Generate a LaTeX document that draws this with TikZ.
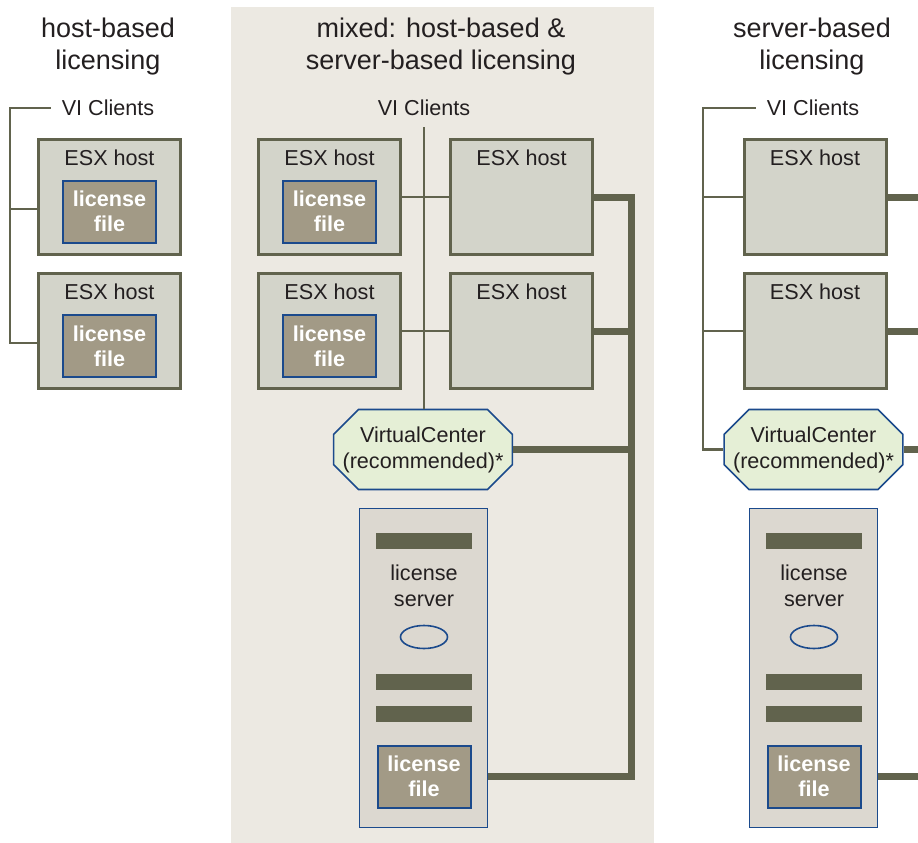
\documentclass[tikz,border=0pt]{standalone}
\usepackage{fontspec}
\setmainfont{Liberation Sans}
\usepackage{tikz}
\usetikzlibrary{shapes.misc, shapes.geometric, positioning}
\definecolor{PanelBeige}{HTML}{ECE9E2}
\definecolor{HostGray}{HTML}{D3D4CA}
\definecolor{LineOlive}{HTML}{61634D}
\definecolor{FileTaupe}{HTML}{A29A86}
\definecolor{EdgeBlue}{HTML}{1B4A8C}
\definecolor{VCGreen}{HTML}{E5EFD6}
\definecolor{ServerGray}{HTML}{DCD8D0}
\definecolor{TextDark}{HTML}{231F20}
\tikzset{
  titletext/.style={font=\fontsize{27}{32}\selectfont, text=TextDark, align=center},
  clienttext/.style={font=\fontsize{21.6}{26}\selectfont, text=TextDark, inner sep=0pt},
  hostbox/.style={rectangle, draw=LineOlive, line width=3pt, fill=HostGray, minimum width=142pt, minimum height=115pt},
  hostlabel/.style={anchor=center, yshift=-20pt, font=\fontsize{21.6}{26}\selectfont, text=TextDark},
  filebox/.style={rectangle, draw=EdgeBlue, line width=2pt, fill=FileTaupe, text=white, font=\bfseries\fontsize{21.6}{25}\selectfont, align=center, minimum width=93pt, minimum height=62pt, inner sep=0pt},
  vcbox/.style={chamfered rectangle, chamfered rectangle xsep=9pt, chamfered rectangle ysep=16pt, draw=EdgeBlue, line width=1.6pt, fill=VCGreen, text=TextDark, font=\fontsize{21.6}{26}\selectfont, align=center, minimum height=80pt, inner sep=0pt},
  serverbox/.style={rectangle, draw=EdgeBlue, line width=1.6pt, fill=ServerGray, minimum width=128pt, minimum height=319pt},
  servertext/.style={font=\fontsize{21.6}{26}\selectfont, text=TextDark, align=center},
  slotbar/.style={rectangle, fill=LineOlive, minimum width=96pt, minimum height=16pt, inner sep=0pt},
  diskslot/.style={ellipse, draw=EdgeBlue, line width=1.6pt, minimum width=47pt, minimum height=23pt},
  thinline/.style={draw=LineOlive, line width=2.5pt},
  thickline/.style={draw=LineOlive, line width=7pt, line join=miter}
}
\begin{document}
\begin{tikzpicture}[x=1pt, y=-1pt]
  \useasboundingbox (0,0) rectangle (918,843);
  \fill[PanelBeige] (231,7) rectangle (654,843);

  % titles
  \node[titletext] (titleL) at (108,47) {host-based\\licensing};
  \node[titletext] (titleM) at (441,47) {mixed: host-based \&\\server-based licensing};
  \node[titletext] (titleR) at (812,47) {server-based\\licensing};

  % host-based licensing
  \node[clienttext] (viL) at (108,108) {VI Clients};
  \node[hostbox, label={[hostlabel]north:ESX host}] (hostL1) at (109.5,197) {};
  \node[hostbox, label={[hostlabel]north:ESX host}] (hostL2) at (109.5,331) {};
  \node[filebox] (fileL1) at (109.5,211.5) {license\\file};
  \node[filebox] (fileL2) at (109.5,346) {license\\file};
  \coordinate (busL) at (10,108);
  \coordinate (tapL1) at (10,209);
  \coordinate (tapL2) at (10,343);
  \draw[thinline] ([xshift=-11pt]viL.west) -- (busL) -- (tapL2) -- (tapL2 -| hostL2.west);
  \draw[thinline] (tapL1) -- (tapL1 -| hostL1.west);

  % mixed licensing
  \node[clienttext] (viM) at (424,108) {VI Clients};
  \node[hostbox, label={[hostlabel]north:ESX host}] (hostM1) at (329.5,197) {};
  \node[hostbox, label={[hostlabel]north:ESX host}] (hostM2) at (329.5,331) {};
  \node[filebox] (fileM1) at (329.5,211.5) {license\\file};
  \node[filebox] (fileM2) at (329.5,346) {license\\file};
  \node[hostbox, label={[hostlabel]north:ESX host}] (hostM3) at (521.5,197) {};
  \node[hostbox, label={[hostlabel]north:ESX host}] (hostM4) at (521.5,331) {};
  \node[vcbox] (vcM) at (423,449.5) {VirtualCenter\\(recommended)*};
  \node[serverbox] (serverM) at (423.5,668) {};
  \node[slotbar] (barM1) at (424,541) {};
  \node[servertext] (srvM) at (424,586) {license\\server};
  \node[diskslot] (diskM) at (424,637) {};
  \node[slotbar] (barM2) at (424,682) {};
  \node[slotbar] (barM3) at (424,714) {};
  \node[filebox] (fileSM) at (424,776.5) {license\\file};
  \coordinate (busMtop) at (424,127);
  \coordinate (trunkM) at (631,776.5);
  \draw[thinline] (busMtop) -- (busMtop |- vcM.north);
  \draw[thinline] (hostM1.east) -- (hostM3.west);
  \draw[thinline] (hostM2.east) -- (hostM4.west);
  \draw[thickline] (hostM3.east) -| (trunkM) -- (fileSM.east -| serverM.east);
  \draw[thickline] (hostM4.east) -- (hostM4.east -| trunkM);
  \draw[thickline] (vcM.east) -- (vcM.east -| trunkM);

  % server-based licensing
  \node[clienttext] (viR) at (813,108) {VI Clients};
  \node[hostbox, label={[hostlabel]north:ESX host}] (hostR1) at (815,197) {};
  \node[hostbox, label={[hostlabel]north:ESX host}] (hostR2) at (815,331) {};
  \node[vcbox] (vcR) at (813.5,449.5) {VirtualCenter\\(recommended)*};
  \node[serverbox] (serverR) at (813.5,668) {};
  \node[slotbar] (barR1) at (814,541) {};
  \node[servertext] (srvR) at (814,586) {license\\server};
  \node[diskslot] (diskR) at (814,637) {};
  \node[slotbar] (barR2) at (814,682) {};
  \node[slotbar] (barR3) at (814,714) {};
  \node[filebox] (fileSR) at (814,776.5) {license\\file};
  \coordinate (busR) at (703,108);
  \coordinate (edgeR) at (918,0);
  \draw[thinline] ([xshift=-11pt]viR.west) -- (busR) |- (vcR.west);
  \draw[thinline] (busR |- hostR1.west) -- (hostR1.west);
  \draw[thinline] (busR |- hostR2.west) -- (hostR2.west);
  \draw[thickline] (hostR1.east) -- (hostR1.east -| edgeR);
  \draw[thickline] (hostR2.east) -- (hostR2.east -| edgeR);
  \draw[thickline] (vcR.east) -- (vcR.east -| edgeR);
  \draw[thickline] (fileSR.east -| serverR.east) -- (fileSR.east -| edgeR);
\end{tikzpicture}
\end{document}
